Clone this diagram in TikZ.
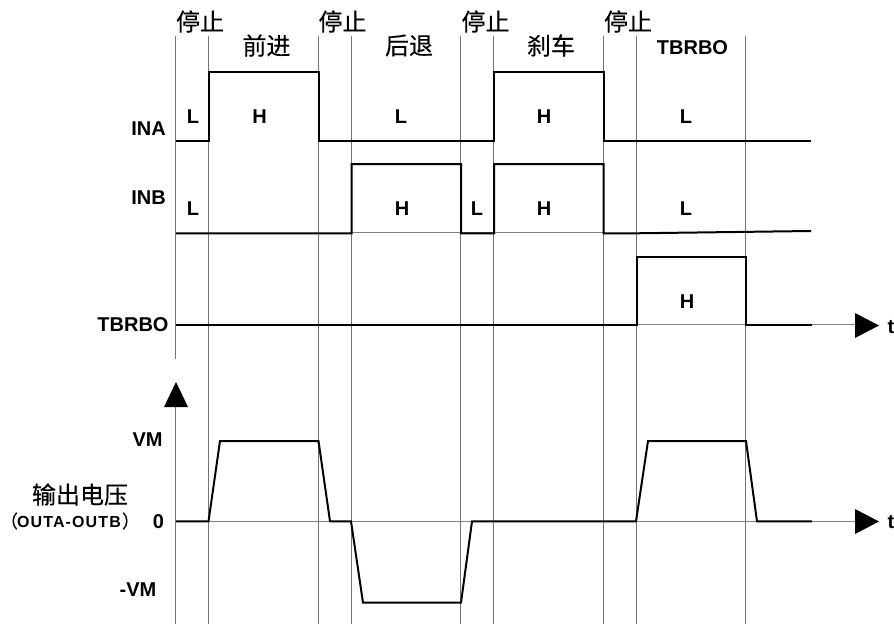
\documentclass[tikz,border=0pt]{standalone}
\usepackage{fontspec}
\setmainfont{Liberation Sans}
\newfontfamily\cjkfont[FakeBold=0.25]{Noto Sans CJK SC}
\newfontfamily\spacedfont[LetterSpace=7,BoldFont={Liberation Sans Bold}]{Liberation Sans}
\tikzset{
  vline/.style={draw=black!55,line width=0.8pt},
  baseline thin/.style={draw=black!50,line width=0.7pt},
  wave/.style={draw=black,line width=2pt,line join=miter,line cap=butt},
  head/.style={fill=black,draw=none},
  lab/.style={font=\fontsize{20}{20}\selectfont\bfseries,inner sep=0pt,anchor=center},
  cjk/.style={font=\fontsize{24}{24}\selectfont\cjkfont,inner sep=0pt,anchor=center},
  paren/.style={font=\fontsize{18}{18}\selectfont\cjkfont,inner sep=0pt,anchor=center}
}
\begin{document}
\begin{tikzpicture}[x=1pt,y=-1pt]
\useasboundingbox (0,0) rectangle (894,626);
% vertical guides
\draw[vline] (175,36) -- (175,359);
\draw[vline] (175,405) -- (175,624);
\foreach \x in {208,318,351,460,493,603,636,745}
  \draw[vline] (\x,36) -- (\x,624);
% thin baselines
\draw[baseline thin] (351,232.5) -- (603,232.5);
\draw[baseline thin] (636,324.5) -- (856,324.5);
\draw[baseline thin] (176,521) -- (856,521);
% signals
\draw[wave] (176,141) -- (208.7,141) -- (208.7,72) -- (318.5,72) -- (318.5,141) -- (493.7,141) -- (493.7,72) -- (603.7,72) -- (603.7,141) -- (811,141);
\draw[wave] (176,233.3) -- (351.7,233.3) -- (351.7,164) -- (461,164) -- (461,233.3) -- (494,233.3) -- (494,164) -- (603.7,164) -- (603.7,233.3) -- (636,233.3) -- (811,231);
\draw[wave] (176,325.3) -- (636.7,325.3) -- (636.7,256.5) -- (746,256.5) -- (746,325.3) -- (812,325.3);
\draw[wave] (176,521.3) -- (208.5,521.3) -- (220,441) -- (318.5,441) -- (330,521.3) -- (351,521.3) -- (363,602.7) -- (461,602.7) -- (472,521.3) -- (636,521.3) -- (648,441) -- (746,441) -- (757,521.3) -- (812,521.3);
% arrowheads
\fill[head] (855,313) -- (879,325.5) -- (855,338) -- cycle;
\fill[head] (855,509) -- (879,521.5) -- (855,534) -- cycle;
\fill[head] (164,407) -- (176,382) -- (188,407) -- cycle;
% top labels
\node[cjk] (s1) at (200,21.5) {停止};
\node[cjk] (s2) at (342.5,21.5) {停止};
\node[cjk] (s3) at (485.5,21.5) {停止};
\node[cjk] (s4) at (628,21.5) {停止};
\node[cjk] (fw) at (266.5,45.5) {前进};
\node[cjk] (bk) at (409,45.5) {后退};
\node[cjk] (br) at (551,45.5) {刹车};
\node[lab] (tb) at (692.5,47.5) {TBRBO};
% level labels
\node[lab] (a1) at (193,117) {L};
\node[lab] (a2) at (259.5,117) {H};
\node[lab] (a3) at (401,117) {L};
\node[lab] (a4) at (544,117) {H};
\node[lab] (a5) at (686,117) {L};
\node[lab] (b1) at (193,209) {L};
\node[lab] (b2) at (402,209) {H};
\node[lab] (b3) at (477,209) {L};
\node[lab] (b4) at (544,209) {H};
\node[lab] (b5) at (686,209) {L};
\node[lab] (c1) at (687,302) {H};
% signal names
\node[lab] (ina) at (148.5,128.5) {INA};
\node[lab] (inb) at (148.5,197.5) {INB};
\node[lab] (tbo) at (133,325) {TBRBO};
\node[lab] (vm) at (147.5,440) {VM};
\node[lab] (zero) at (158.5,521.5) {0};
\node[lab] (nvm) at (138,590) {-VM};
\node[lab] (t1) at (891,327.5) {t};
\node[lab] (t2) at (891,522.5) {t};
\node[cjk] (out) at (80,494.5) {输出电压};
\node[paren] (lp) at (9,521) {（};
\node[inner sep=0pt,font=\fontsize{16}{16}\selectfont\spacedfont\bfseries] (outab) at (69,522) {OUTA-OUTB};
\node[paren] (rp) at (131,521) {）};
\end{tikzpicture}
\end{document}
